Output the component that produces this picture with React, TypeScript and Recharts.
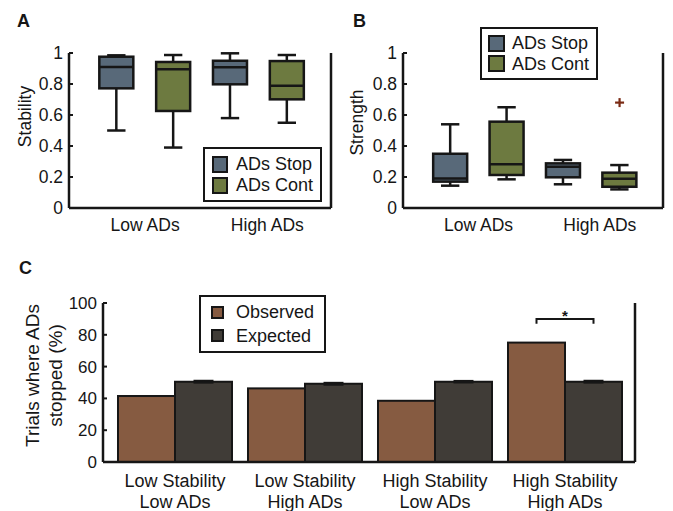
import React from "react";
import { ComposedChart, Bar, XAxis, YAxis, Scatter, ErrorBar } from "recharts";

const FONT = "'Liberation Sans', Arial, Helvetica, sans-serif";
const INK = "#161616";

// ---------- Panels A & B (box plots) ----------
const boxGroups = ["Low ADs", "High ADs"];
const boxSeries = ["ADs Stop", "ADs Cont"];
// order of boxes: Low/Stop, Low/Cont, High/Stop, High/Cont
const stabilityMin = [0.5, 0.39, 0.58, 0.55];
const stabilityQ1 = [0.772, 0.626, 0.798, 0.701];
const stabilityMedian = [0.91, 0.895, 0.908, 0.789];
const stabilityQ3 = [0.976, 0.942, 0.95, 0.948];
const stabilityMax = [0.985, 0.987, 0.998, 0.987];
const stabilityOutliers: number[][] = [[], [], [], []];

const strengthMin = [0.144, 0.185, 0.153, 0.12];
const strengthQ1 = [0.17, 0.213, 0.198, 0.137];
const strengthMedian = [0.19, 0.282, 0.266, 0.189];
const strengthQ3 = [0.35, 0.557, 0.288, 0.228];
const strengthMax = [0.54, 0.65, 0.31, 0.277];
const strengthOutliers: number[][] = [[], [], [], [0.68]];

const unitTicks = [0, 0.2, 0.4, 0.6, 0.8, 1];

// ---------- Panel C ----------
const stabilityLevels = ["Low Stability", "Low Stability", "High Stability", "High Stability"];
const adLevels = ["Low ADs", "High ADs", "Low ADs", "High ADs"];
const observedPct = [41.5, 46.3, 38.5, 75.1];
const expectedPct = [50.5, 49.2, 50.5, 50.5];
const expectedErr = [0.6, 0.6, 0.5, 0.6];
const significant = [false, false, false, true];
const pctTicks = [0, 20, 40, 60, 80, 100];
const barSeries = ["Observed", "Expected"];

// ---------- styling / layout constants ----------
const seriesColor: Record<string, string> = {
  "ADs Stop": "#586979",
  "ADs Cont": "#6d7a40",
  Observed: "#865b41",
  Expected: "#403c37",
};
const groupTickPos = [1.5, 3.65];
const BRACKET_LEVEL = 90;
const BRACKET_TIP = 87;
const STAR_LEVEL = 88.5;

const buildBoxRows = (
  mins: number[],
  q1s: number[],
  meds: number[],
  q3s: number[],
  maxs: number[]
) =>
  mins.map((mn, i) => ({
    pos: i + 1,
    group: boxGroups[Math.floor(i / 2)],
    series: boxSeries[i % 2],
    range: [mn, maxs[i]],
    min: mn,
    q1: q1s[i],
    median: meds[i],
    q3: q3s[i],
    max: maxs[i],
  }));

const buildOutlierRows = (outs: number[][]) =>
  outs.flatMap((vals, i) => vals.map((v) => ({ pos: i + 1, value: v })));

const stabilityRows = buildBoxRows(stabilityMin, stabilityQ1, stabilityMedian, stabilityQ3, stabilityMax);
const strengthRows = buildBoxRows(strengthMin, strengthQ1, strengthMedian, strengthQ3, strengthMax);
const stabilityOutlierRows = buildOutlierRows(stabilityOutliers);
const strengthOutlierRows = buildOutlierRows(strengthOutliers);

const pctRows = observedPct.map((o, i) => ({
  key: `${stabilityLevels[i]}|${adLevels[i]}`,
  observed: o,
  expected: expectedPct[i],
  expectedErr: expectedErr[i],
  significant: significant[i],
}));

const BoxShape = (props: any) => {
  const { x, y, width, height, payload } = props;
  if (!payload || !isFinite(x) || !isFinite(y) || !isFinite(height)) return null;
  const top = Math.min(y, y + height);
  const bottom = Math.max(y, y + height);
  const span = payload.max - payload.min;
  const toPx = (v: number) => bottom - ((v - payload.min) / span) * (bottom - top);
  const cx = x + width / 2;
  const capHalf = width * 0.27;
  const sw = 2.5;
  const fill = seriesColor[payload.series];
  return (
    <g>
      <line x1={cx} x2={cx} y1={toPx(payload.max)} y2={toPx(payload.q3)} stroke={INK} strokeWidth={sw} />
      <line x1={cx} x2={cx} y1={toPx(payload.q1)} y2={toPx(payload.min)} stroke={INK} strokeWidth={sw} />
      <line x1={cx - capHalf} x2={cx + capHalf} y1={toPx(payload.max)} y2={toPx(payload.max)} stroke={INK} strokeWidth={sw} />
      <line x1={cx - capHalf} x2={cx + capHalf} y1={toPx(payload.min)} y2={toPx(payload.min)} stroke={INK} strokeWidth={sw} />
      <rect
        x={x}
        y={toPx(payload.q3)}
        width={width}
        height={toPx(payload.q1) - toPx(payload.q3)}
        fill={fill}
        stroke={INK}
        strokeWidth={sw}
      />
      <line x1={x} x2={x + width} y1={toPx(payload.median)} y2={toPx(payload.median)} stroke={INK} strokeWidth={sw} />
    </g>
  );
};

const PlusShape = (props: any) => {
  const { cx, cy } = props;
  if (!isFinite(cx) || !isFinite(cy)) return null;
  const r = 4.5;
  return (
    <g>
      <line x1={cx - r} x2={cx + r} y1={cy} y2={cy} stroke="#7a2a14" strokeWidth={2.2} />
      <line x1={cx} x2={cx} y1={cy - r} y2={cy + r} stroke="#7a2a14" strokeWidth={2.2} />
    </g>
  );
};

const AxisTitle = (props: any) => {
  const vb = props.viewBox || {};
  const { lines, xs, shiftY, titleSize } = props;
  const cy = (vb.y ?? 0) + (vb.height ?? 0) / 2 + shiftY;
  return (
    <g>
      {lines.map((t: string, i: number) => (
        <text
          key={t}
          x={xs[i]}
          y={cy}
          transform={`rotate(-90, ${xs[i]}, ${cy})`}
          textAnchor="middle"
          dominantBaseline="central"
          fontSize={titleSize}
          fontFamily={FONT}
          fill={INK}
        >
          {t}
        </text>
      ))}
    </g>
  );
};

const ObservedShape = (props: any) => {
  const { x, y, width, height, fill, payload } = props;
  if (!isFinite(x) || !isFinite(y)) return null;
  const rect = <rect x={x} y={y} width={width} height={height} fill={fill} stroke={INK} strokeWidth={2} />;
  if (!payload || !payload.significant) return rect;
  const base = y + height;
  const perUnit = height / payload.observed;
  const lv = (v: number) => base - v * perUnit;
  const x1 = x + width / 2;
  const x2 = x + width * 1.5;
  return (
    <g>
      {rect}
      <path
        d={`M${x1},${lv(BRACKET_TIP)} L${x1},${lv(BRACKET_LEVEL)} L${x2},${lv(BRACKET_LEVEL)} L${x2},${lv(BRACKET_TIP)}`}
        fill="none"
        stroke={INK}
        strokeWidth={2}
      />
      <text x={(x1 + x2) / 2} y={lv(STAR_LEVEL)} textAnchor="middle" fontSize={15} fontWeight="bold" fontFamily={FONT} fill={INK}>
        *
      </text>
    </g>
  );
};

const TwoLineTick = (props: any) => {
  const { x, y, payload } = props;
  const [l1, l2] = String(payload.value).split("|");
  return (
    <text x={x} y={y} textAnchor="middle" fontSize={18} fontFamily={FONT} fill={INK}>
      <tspan x={x} dy={18}>
        {l1}
      </tspan>
      <tspan x={x} dy={21.3}>
        {l2}
      </tspan>
    </text>
  );
};

const LegendBox = (p: {
  names: string[];
  left: number;
  top: number;
  width: number;
  height: number;
  swatchW: number;
  swatchH: number;
  padLeft: number;
  gap: number;
  rowH: number;
  fontSize: number;
}) => (
  <div
    style={{
      position: "absolute",
      left: p.left,
      top: p.top,
      width: p.width,
      height: p.height,
      boxSizing: "border-box",
      border: `2px solid ${INK}`,
      background: "#fff",
      display: "flex",
      flexDirection: "column",
      justifyContent: "center",
      paddingLeft: p.padLeft,
      fontFamily: FONT,
      fontSize: p.fontSize,
      color: INK,
    }}
  >
    {p.names.map((n) => (
      <div key={n} style={{ display: "flex", alignItems: "center", height: p.rowH, whiteSpace: "nowrap" }}>
        <span
          style={{
            display: "inline-block",
            width: p.swatchW,
            height: p.swatchH,
            boxSizing: "border-box",
            border: `2px solid ${INK}`,
            background: seriesColor[n],
            marginRight: p.gap,
            flex: "none",
          }}
        />
        <span style={{ lineHeight: 1 }}>{n}</span>
      </div>
    ))}
  </div>
);

const axisLineStyle = { stroke: INK, strokeWidth: 2.5 };
const tickLineStyle = { stroke: INK, strokeWidth: 2 };

const BoxChart = (p: {
  rows: any[];
  outliers: any[];
  title: string;
  titleX: number;
  titleShift: number;
  width: number;
  yAxisWidth: number;
  rightMargin: number;
}) => (
  <ComposedChart width={p.width} height={240} data={p.rows} margin={{ top: 53, right: p.rightMargin, bottom: 2, left: 0 }}>
    <XAxis
      dataKey="pos"
      type="number"
      domain={[0.16, 4.77]}
      allowDataOverflow
      ticks={groupTickPos}
      interval={0}
      tickFormatter={(v: number) => boxGroups[groupTickPos.indexOf(v)] ?? ""}
      tickLine={false}
      tickSize={0}
      tickMargin={11}
      height={30}
      axisLine={axisLineStyle}
      tick={{ fill: INK, fontSize: 17.5, fontFamily: FONT }}
    />
    <YAxis
      yAxisId="l"
      domain={[0, 1]}
      ticks={unitTicks}
      interval={0}
      width={p.yAxisWidth}
      tickSize={-4}
      tickMargin={10}
      axisLine={axisLineStyle}
      tickLine={tickLineStyle}
      tick={{ fill: INK, fontSize: 17.5, fontFamily: FONT }}
      tickFormatter={(v: number) => String(v)}
      label={<AxisTitle lines={[p.title]} xs={[p.titleX]} shiftY={p.titleShift} titleSize={17.5} />}
    />
    <YAxis
      yAxisId="r"
      orientation="right"
      domain={[0, 1]}
      ticks={unitTicks}
      interval={0}
      width={1}
      tickSize={-4}
      tickMargin={0}
      axisLine={axisLineStyle}
      tickLine={tickLineStyle}
      tickFormatter={() => ""}
    />
    <Bar yAxisId="l" dataKey="range" barSize={34} shape={(props: any) => <BoxShape {...props} />} isAnimationActive={false} />
    {p.outliers.length > 0 && (
      <Scatter
        yAxisId="l"
        data={p.outliers}
        dataKey="value"
        shape={(props: any) => <PlusShape {...props} />}
        isAnimationActive={false}
      />
    )}
  </ComposedChart>
);

export default function App() {
  return (
    <div
      style={{
        position: "absolute",
        left: 0,
        top: 0,
        width: 673,
        height: 511,
        background: "#fff",
        fontFamily: FONT,
        overflow: "hidden",
      }}
    >
      <svg width={673} height={511} style={{ position: "absolute", left: 0, top: 0 }}>
        <text x={17} y={26.7} fontSize={18} fontWeight="bold" fontFamily={FONT} fill={INK}>
          A
        </text>
        <text x={353} y={26.7} fontSize={18} fontWeight="bold" fontFamily={FONT} fill={INK}>
          B
        </text>
        <text x={19} y={273.5} fontSize={18} fontWeight="bold" fontFamily={FONT} fill={INK}>
          C
        </text>
      </svg>

      <div style={{ position: "absolute", left: 0, top: 0 }}>
        <BoxChart
          rows={stabilityRows}
          outliers={stabilityOutlierRows}
          title="Stability"
          titleX={25}
          titleShift={-14}
          width={340}
          yAxisWidth={69}
          rightMargin={8}
        />
      </div>
      <div style={{ position: "absolute", left: 336, top: 0 }}>
        <BoxChart
          rows={strengthRows}
          outliers={strengthOutlierRows}
          title="Strength"
          titleX={20.7}
          titleShift={-8}
          width={337}
          yAxisWidth={67}
          rightMargin={9}
        />
      </div>

      <div style={{ position: "absolute", left: 0, top: 250 }}>
        <ComposedChart
          width={673}
          height={261}
          data={pctRows}
          margin={{ top: 53, right: 37, bottom: 2, left: 0 }}
          barGap={0}
          barCategoryGap={8}
        >
          <XAxis
            dataKey="key"
            padding={{ left: 7, right: 5 }}
            interval={0}
            tickLine={false}
            tickSize={0}
            tickMargin={7}
            height={47}
            axisLine={axisLineStyle}
            tick={(props: any) => <TwoLineTick {...props} />}
          />
          <YAxis
            yAxisId="l"
            domain={[0, 100]}
            ticks={pctTicks}
            interval={0}
            width={103}
            tickSize={-4}
            tickMargin={10}
            axisLine={axisLineStyle}
            tickLine={tickLineStyle}
            tick={{ fill: INK, fontSize: 17, fontFamily: FONT }}
            label={
              <AxisTitle lines={["Trials where ADs", "stopped (%)"]} xs={[32.5, 55.5]} shiftY={-7} titleSize={19} />
            }
          />
          <YAxis
            yAxisId="r"
            orientation="right"
            domain={[0, 100]}
            ticks={pctTicks}
            interval={0}
            width={1}
            tickSize={-4}
            tickMargin={0}
            axisLine={axisLineStyle}
            tickLine={tickLineStyle}
            tickFormatter={() => ""}
          />
          <Bar
            yAxisId="l"
            dataKey="observed"
            name={barSeries[0]}
            fill={seriesColor[barSeries[0]]}
            shape={(props: any) => <ObservedShape {...props} />}
            isAnimationActive={false}
          />
          <Bar
            yAxisId="l"
            dataKey="expected"
            name={barSeries[1]}
            fill={seriesColor[barSeries[1]]}
            stroke={INK}
            strokeWidth={2}
            isAnimationActive={false}
          >
            <ErrorBar dataKey="expectedErr" width={10} stroke={INK} strokeWidth={2} direction="y" />
          </Bar>
        </ComposedChart>
      </div>

      <LegendBox
        names={boxSeries}
        left={203}
        top={147}
        width={119}
        height={55}
        swatchW={16}
        swatchH={17}
        padLeft={7}
        gap={8}
        rowH={21}
        fontSize={18}
      />
      <LegendBox
        names={boxSeries}
        left={480}
        top={27}
        width={118}
        height={53}
        swatchW={17}
        swatchH={17}
        padLeft={6}
        gap={7}
        rowH={20.7}
        fontSize={18}
      />
      <LegendBox
        names={barSeries}
        left={199}
        top={295}
        width={127}
        height={58}
        swatchW={13}
        swatchH={13}
        padLeft={9.5}
        gap={12.5}
        rowH={23.5}
        fontSize={18}
      />
    </div>
  );
}
